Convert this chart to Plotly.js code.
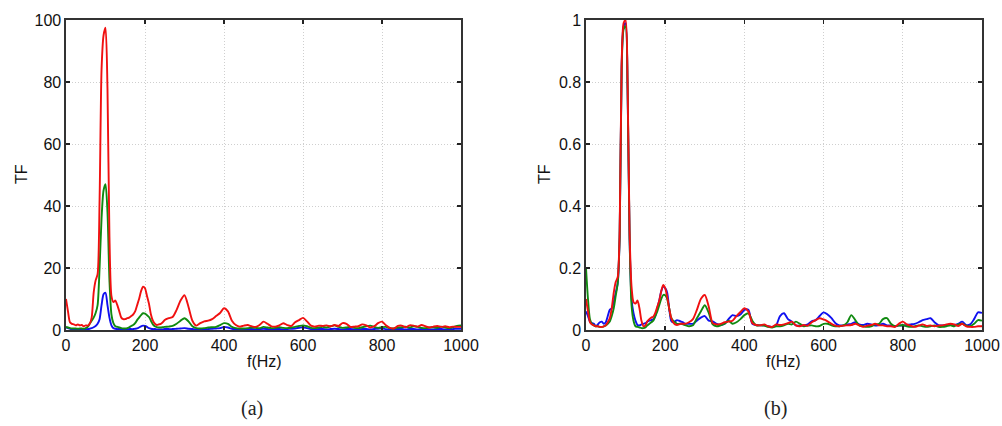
<!DOCTYPE html>
<html>
<head>
<meta charset="utf-8">
<script src="https://cdn.plot.ly/plotly-3.0.1.min.js"></script>
<style>
  html, body { margin: 0; padding: 0; background: #fff; }
  #chart { width: 1002px; height: 426px; }
</style>
</head>
<body>
<div id="chart"></div>
<script>
// Frequency axis (Hz): 5 Hz steps up to 250 Hz, then 10 Hz steps
const freq = [
  0,5,10,15,20,25,30,35,40,45,50,55,
  60,65,70,75,80,85,90,95,100,105,110,115,
  120,125,130,135,140,145,150,155,160,165,170,175,
  180,185,190,195,200,205,210,215,220,225,230,235,240,245,250,
  260,270,280,290,300,310,320,330,340,350,
  360,370,380,390,400,410,420,430,440,450,
  460,470,480,490,500,510,520,530,540,550,
  560,570,580,590,600,610,620,630,640,650,
  660,670,680,690,700,710,720,730,740,750,
  760,770,780,790,800,810,820,830,840,850,
  860,870,880,890,900,910,920,930,940,950,
  960,970,980,990,1000
];

// (a) transfer function magnitude
const tfRedA = [
  10,6,2.5,2,1.8,1.5,1.8,1.5,1.6,1.2,1.5,1.4,
  2,4,12,16,18,42,84,95,97.5,78,30,11,
  9,9.5,8,6,4,3.5,3.5,3.8,4,4.5,5,6,
  8,10,12.5,14,13.5,11,8.5,5,3,2,1.6,1.8,2,2.5,3.2,
  3.8,4.2,6.5,9.5,11.2,7.5,3,1.4,2.2,2.8,
  3,3.5,4.5,5.5,7,6,3,1.6,1.1,1.4,
  1.6,1.2,1,1.6,2.7,2,1.2,1.1,1.5,2.2,
  1.6,1.3,2.5,3.2,3.9,2.8,1.4,1.1,1.4,1.3,
  1.5,1.2,1.6,1.3,2.2,2,1,1.1,1.2,1.8,
  1.5,0.8,1.2,2.2,2.7,1.5,0.7,0.5,1.3,1.4,
  0.9,1.5,1.4,1.1,1.6,1.2,0.8,1.1,1.3,1,
  1.2,0.9,1.1,1,1
];
const tfGreenA = [
  1,0.8,0.6,0.5,0.5,0.5,0.4,0.5,0.5,0.4,0.6,1,
  2,3,4,5.5,8,20,36,45,47,38,16,5,
  2.2,1.2,1,0.8,0.6,0.5,0.5,0.6,0.9,1.3,1.6,2.2,
  3.2,4,4.8,5.4,5.3,4.8,4.2,3,1.8,1.2,0.9,0.8,0.8,0.9,1,
  1.1,1.3,2,3,3.8,2.8,1.2,0.6,0.5,0.6,
  0.8,0.9,1,1.6,2.2,2,1,0.6,0.5,0.5,
  0.6,0.8,0.7,0.6,1,0.8,0.6,0.7,0.9,0.7,
  0.6,0.8,1,1.3,1.5,1.2,0.7,0.6,0.8,1,
  0.8,1.2,1.5,1,0.7,0.8,1,0.7,0.6,0.9,
  1.2,1.4,1,0.7,0.9,1,0.6,0.5,0.8,0.9,
  1.1,0.8,1.2,1,0.7,0.6,0.8,0.9,0.7,1.1,
  0.8,0.6,0.9,1.3,1.5
];
const tfBlueA = [
  0.8,0.6,0.4,0.3,0.3,0.3,0.3,0.3,0.3,0.3,0.3,0.3,
  0.4,0.6,0.9,1.3,2,3.5,8,11.5,12,8,4,1.5,
  0.6,0.4,0.3,0.3,0.2,0.2,0.2,0.2,0.3,0.3,0.3,0.4,
  0.5,0.8,1.2,1.4,1.3,1,0.6,0.4,0.3,0.3,0.2,0.2,0.2,0.2,0.3,
  0.3,0.3,0.4,0.5,0.6,0.4,0.3,0.2,0.2,0.3,
  0.3,0.4,0.5,0.6,1,0.8,0.4,0.3,0.2,0.2,
  0.3,0.3,0.2,0.3,0.4,0.3,0.2,0.3,0.3,0.2,
  0.3,0.4,0.5,0.7,0.9,0.6,0.3,0.2,0.3,0.3,
  0.2,0.3,0.4,0.3,0.2,0.3,0.3,0.2,0.2,0.3,
  0.3,0.2,0.3,0.4,0.5,0.3,0.2,0.2,0.3,0.3,
  0.2,0.3,0.3,0.2,0.3,0.3,0.2,0.2,0.3,0.3,
  0.2,0.3,0.3,0.4,0.4
];

// (b) normalised transfer function
const tfRedB = [
  0.1,0.06,0.025,0.018,0.015,0.012,0.012,0.01,0.01,0.012,0.015,0.025,
  0.038,0.07,0.12,0.155,0.17,0.32,0.86,0.99,1,0.8,0.32,0.14,
  0.09,0.085,0.095,0.07,0.03,0.012,0.015,0.028,0.035,0.04,0.043,0.055,
  0.075,0.095,0.125,0.145,0.135,0.107,0.07,0.04,0.025,0.018,0.016,0.018,0.02,0.02,0.02,
  0.025,0.035,0.065,0.1,0.113,0.075,0.022,0.018,0.02,0.025,
  0.027,0.03,0.045,0.058,0.07,0.06,0.022,0.016,0.015,0.018,
  0.012,0.01,0.018,0.016,0.018,0.022,0.027,0.015,0.012,0.016,
  0.014,0.025,0.032,0.038,0.034,0.028,0.02,0.014,0.012,0.014,
  0.015,0.016,0.02,0.015,0.01,0.014,0.016,0.02,0.015,0.015,
  0.012,0.012,0.01,0.02,0.027,0.018,0.014,0.01,0.014,0.018,
  0.013,0.015,0.012,0.014,0.015,0.018,0.02,0.018,0.013,0.02,
  0.012,0.01,0.01,0.012,0.012
];
const tfGreenB = [
  0.2,0.1,0.035,0.02,0.015,0.012,0.012,0.01,0.01,0.012,0.015,0.02,
  0.027,0.045,0.07,0.11,0.15,0.3,0.84,0.97,0.98,0.78,0.3,0.08,
  0.03,0.012,0.01,0.008,0.006,0.006,0.008,0.015,0.02,0.025,0.03,0.045,
  0.06,0.08,0.1,0.113,0.112,0.1,0.07,0.04,0.03,0.025,0.02,0.02,0.02,0.018,0.016,
  0.012,0.015,0.038,0.06,0.08,0.055,0.018,0.012,0.015,0.02,
  0.03,0.02,0.025,0.035,0.048,0.054,0.03,0.015,0.015,0.014,
  0.01,0.008,0.012,0.012,0.015,0.02,0.018,0.027,0.02,0.012,
  0.014,0.015,0.012,0.013,0.02,0.02,0.015,0.012,0.012,0.015,
  0.025,0.048,0.032,0.015,0.012,0.01,0.012,0.018,0.02,0.035,
  0.038,0.02,0.012,0.014,0.016,0.012,0.01,0.012,0.015,0.012,
  0.01,0.012,0.015,0.01,0.01,0.012,0.015,0.012,0.018,0.02,
  0.014,0.012,0.02,0.032,0.03
];
const tfBlueB = [
  0.06,0.045,0.027,0.022,0.02,0.012,0.018,0.025,0.027,0.02,0.025,0.045,
  0.065,0.07,0.09,0.12,0.15,0.3,0.85,0.98,0.99,0.78,0.3,0.1,
  0.054,0.03,0.016,0.015,0.018,0.02,0.022,0.027,0.03,0.032,0.035,0.045,
  0.07,0.095,0.125,0.14,0.135,0.12,0.07,0.03,0.025,0.028,0.032,0.03,0.027,0.025,0.02,
  0.02,0.02,0.03,0.04,0.045,0.03,0.028,0.02,0.016,0.02,
  0.035,0.048,0.045,0.05,0.065,0.065,0.02,0.016,0.015,0.015,
  0.012,0.01,0.015,0.045,0.054,0.035,0.027,0.015,0.014,0.015,
  0.018,0.028,0.032,0.045,0.057,0.05,0.038,0.022,0.015,0.015,
  0.018,0.02,0.025,0.018,0.016,0.02,0.018,0.014,0.016,0.02,
  0.015,0.014,0.012,0.015,0.014,0.016,0.018,0.02,0.025,0.032,
  0.035,0.038,0.025,0.016,0.015,0.015,0.018,0.016,0.02,0.027,
  0.016,0.018,0.035,0.057,0.055
];

const xTicks = [0, 200, 400, 600, 800, 1000];
const yTicksA = [0, 20, 40, 60, 80, 100];
const yTicksB = [0, 0.2, 0.4, 0.6, 0.8, 1];

const W = 1002, H = 426;
const px = v => v / W;
const py = v => 1 - v / H;

const RED = '#f01010', GREEN = '#108a10', BLUE = '#1010f0';

function line(y, color, xa, ya) {
  return {
    x: freq, y: y, type: 'scatter', mode: 'lines',
    xaxis: xa, yaxis: ya,
    line: { color: color, width: 1.9, shape: 'spline', smoothing: 0.7 },
    hoverinfo: 'skip', showlegend: false
  };
}

const data = [
  line(tfBlueA, BLUE, 'x', 'y'),
  line(tfGreenA, GREEN, 'x', 'y'),
  line(tfRedA, RED, 'x', 'y'),
  line(tfBlueB, BLUE, 'x2', 'y2'),
  line(tfGreenB, GREEN, 'x2', 'y2'),
  line(tfRedB, RED, 'x2', 'y2')
];

const sans = "'Liberation Sans', Arial, Helvetica, sans-serif";
const tickFont = { family: sans, size: 16, color: '#111' };

function axisBase() {
  return {
    ticks: 'inside', ticklen: 4, tickwidth: 1.5, tickcolor: '#222',
    showline: true, linecolor: '#333', linewidth: 1.6, mirror: 'ticks',
    showgrid: true, gridcolor: '#cfcfcf', gridwidth: 1, griddash: '1px,2px',
    zeroline: false, tickfont: tickFont, fixedrange: true, tickmode: 'array'
  };
}
function xAxis(domain, anchor) {
  return Object.assign(axisBase(), {
    domain: domain, anchor: anchor, range: [0, 1000], tickvals: xTicks
  });
}
function yAxis(domain, anchor, range, vals) {
  return Object.assign(axisBase(), {
    domain: domain, anchor: anchor, range: range, tickvals: vals
  });
}

const yDom = [py(330), py(20)];
const labelFont = { family: sans, size: 16, color: '#111' };
const capFont = { family: "'Liberation Serif', 'Times New Roman', serif", size: 20, color: '#222' };

function note(text, x, y, font, angle) {
  return {
    text: text, xref: 'paper', yref: 'paper', x: px(x), y: py(y),
    xanchor: 'center', yanchor: 'middle', showarrow: false,
    font: font, textangle: angle || 0
  };
}

const layout = {
  width: W, height: H,
  margin: { l: 0, r: 0, t: 0, b: 0 },
  paper_bgcolor: '#fff', plot_bgcolor: '#fff',
  xaxis: xAxis([px(66), px(461)], 'y'),
  yaxis: yAxis(yDom, 'x', [0, 100], yTicksA),
  xaxis2: xAxis([px(586), px(982)], 'y2'),
  yaxis2: yAxis(yDom, 'x2', [0, 1], yTicksB),
  annotations: [
    note('TF', 21, 174, labelFont, -90),
    note('TF', 544, 174, labelFont, -90),
    note('f(Hz)', 264, 361, labelFont),
    note('f(Hz)', 783, 361, labelFont),
    note('(a)', 252, 408, capFont),
    note('(b)', 775, 408, capFont)
  ]
};

Plotly.newPlot('chart', data, layout, { displayModeBar: false, staticPlot: true });
</script>
</body>
</html>
